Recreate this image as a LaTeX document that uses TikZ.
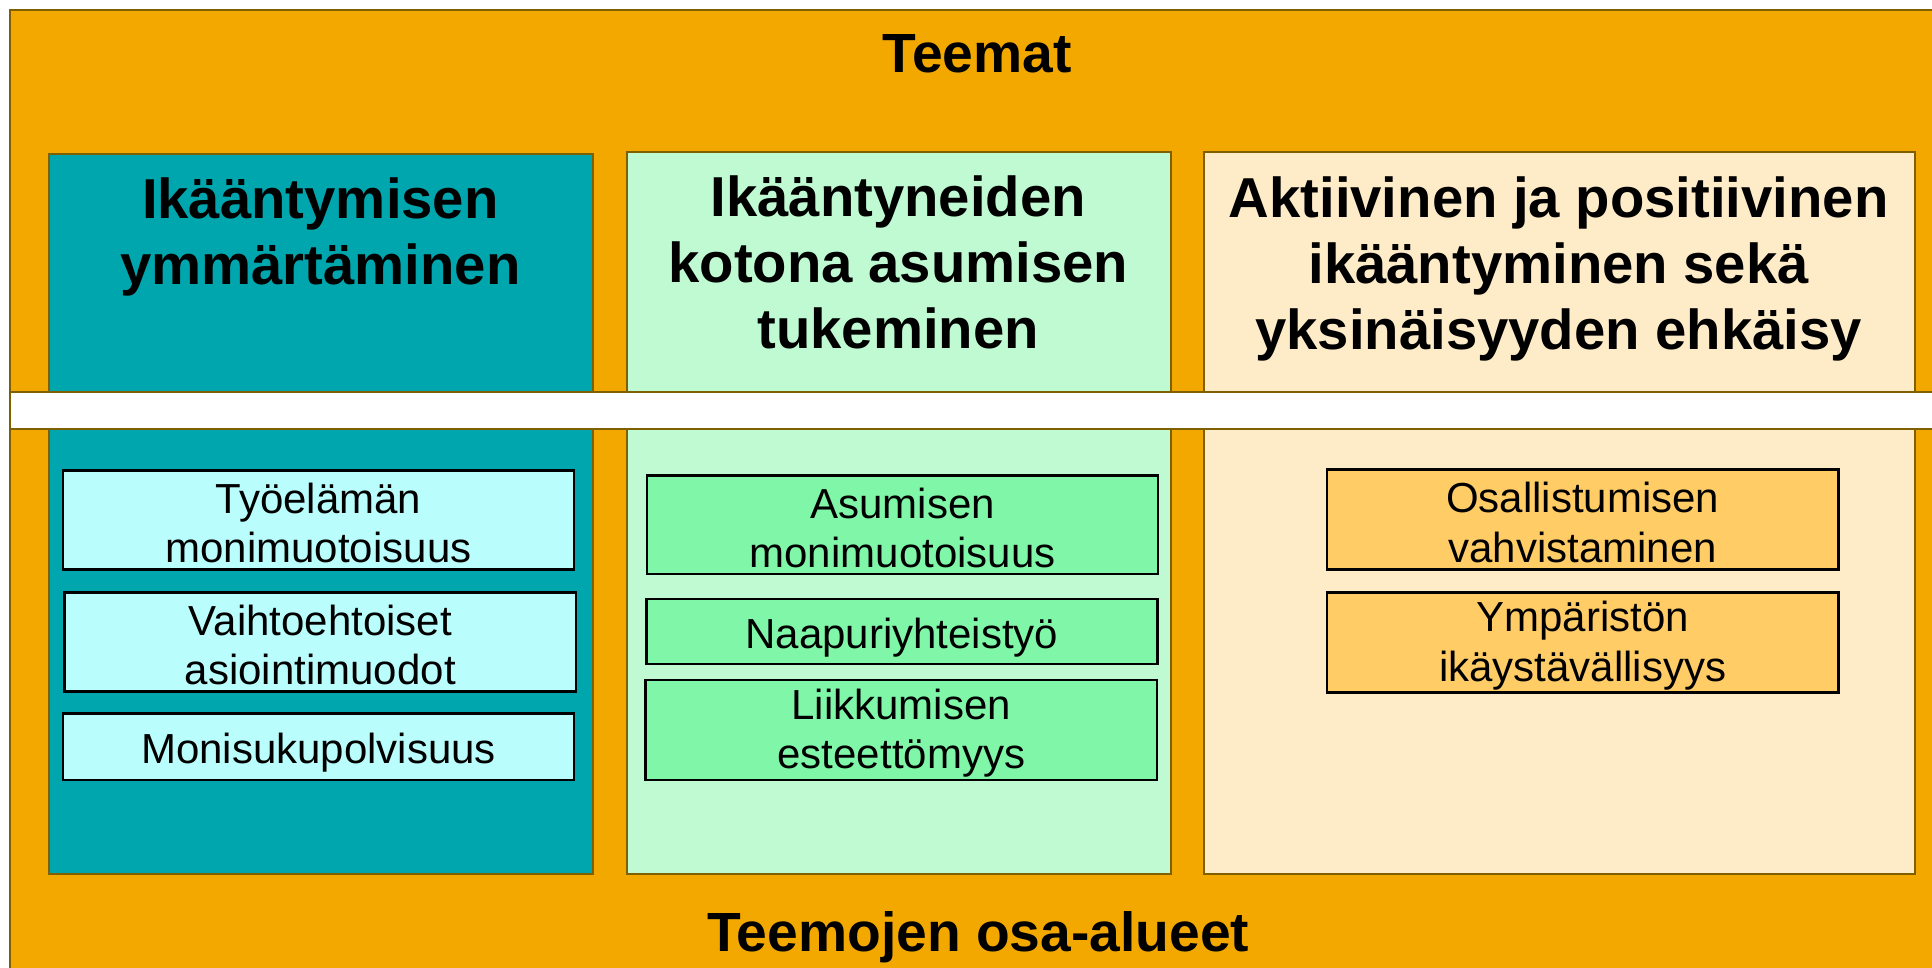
\documentclass[tikz,border=0pt]{standalone}
\usepackage{fontspec}
\setmainfont{Liberation Sans}
\usetikzlibrary{positioning}

\definecolor{teemaorange}{RGB}{243,168,0}
\definecolor{reuna}{RGB}{127,96,0}
\definecolor{teal1}{RGB}{0,166,174}
\definecolor{mint1}{RGB}{191,250,211}
\definecolor{cream1}{RGB}{254,236,201}
\definecolor{cyan2}{RGB}{185,253,253}
\definecolor{green2}{RGB}{128,247,168}
\definecolor{orange2}{RGB}{255,204,102}

\newcommand{\ylaraja}{\rule{0pt}{0.87em}}

\begin{document}
\begin{tikzpicture}[x=0.02cm, y=-0.02cm,
    frame/.style={draw=reuna, line width=0.9pt},
    otsikko/.style={align=center, inner sep=0pt, font=\fontsize{25.5}{30}\bfseries\selectfont},
    teema/.style={align=center, inner sep=0pt, font=\fontsize{26}{30.5}\bfseries\selectfont},
    osa/.style={draw=black, line width=1.2pt, minimum width=8.3cm, minimum height=1.6cm,
        align=center, inner sep=0pt, font=\fontsize{19.4}{22.8}\selectfont},
    yksirivi/.style={osa, minimum height=1.07cm,
        execute at begin node=\rule{0pt}{1.0em},
        execute at end node=\rule[-0.21em]{0pt}{0pt}}]
            \clip (0,0) rectangle (1568,785);
            \fill[white] (0,0) rectangle (1568,785);

            % tausta
            \draw[frame, fill=teemaorange] (8,8) rectangle (1600,820);

            % teemojen sarakkeet
            \draw[frame, fill=teal1]  (40,125)  rectangle (481,709);
            \draw[frame, fill=mint1]  (509,123) rectangle (950,709);
            \draw[frame, fill=cream1] (977,123) rectangle (1554,709);

            % valkoinen vaaka-palkki
            \draw[frame, fill=white] (8,318) rectangle (1600,348);

            \node[otsikko] (teemat) at (793,44)  {Teemat};
            \node[otsikko] (osaalueet) at (794,761) {Teemojen osa-alueet};

            \node[teema] (ymmarrys) at (260,192)  {Ikääntymisen\\ymmärtäminen};
            \node[teema] (asuminen) at (729,213)  {Ikääntyneiden\\kotona asumisen\\tukeminen};
            \node[teema] (aktiivinen) at (1265,218) {Aktiivinen ja positiivinen\\ikääntyminen sekä\\yksinäisyyden ehkäisy};

            \node[osa, fill=cyan2] (tyoelama)   at (258.5,422) {\ylaraja Työelämän\\monimuotoisuus};
            \node[osa, fill=cyan2] (asiointi)   at (260,521)   {\ylaraja Vaihtoehtoiset\\asiointimuodot};
            \node[yksirivi, fill=cyan2, minimum height=1.08cm] (sukupolvet) at (258.5,606) {Monisukupolvisuus};

            \node[osa, fill=green2] (asumismuodot) at (732.5,426) {\ylaraja Asumisen\\monimuotoisuus};
            \node[yksirivi, fill=green2, minimum height=1.06cm] (naapurit) at (732,512.5) {Naapuriyhteistyö};
            \node[osa, fill=green2, minimum height=1.62cm] (liikkuminen) at (731.5,592.5) {\ylaraja Liikkumisen\\esteettömyys};

            \node[osa, fill=orange2, minimum height=1.62cm] (osallistuminen) at (1284.5,421.5) {\ylaraja Osallistumisen\\vahvistaminen};
            \node[osa, fill=orange2, minimum height=1.62cm] (ymparisto) at (1284.5,521.5) {\ylaraja Ympäristön\\ikäystävällisyys};
        \end{tikzpicture}
\end{document}
